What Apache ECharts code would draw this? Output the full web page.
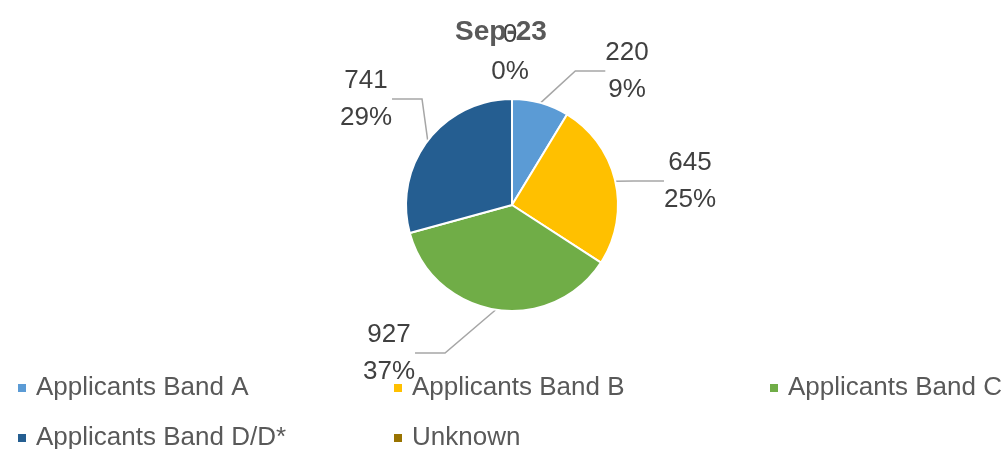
<!DOCTYPE html>
<html>
<head>
<meta charset="utf-8">
<script src="https://cdn.jsdelivr.net/npm/echarts@6/dist/echarts.min.js"></script>
<style>
  html, body { margin: 0; padding: 0; background: #fff; }
  #chart { width: 1002px; height: 449px; }
</style>
</head>
<body>
<div id="chart"></div>
<script>
// data
const title = "Sep-23";
const categories = ["Applicants Band A", "Applicants Band B", "Applicants Band C", "Applicants Band D/D*", "Unknown"];
const values = [220, 645, 927, 741, 0];
const colors = ["#5B9BD5", "#FFC000", "#70AD47", "#255E91", "#997300"];

// where each data label sits (label centre, px)
const labelPos = [
  [627, 71],
  [690, 181],
  [389, 353],
  [366, 99],
  [510, 53],
];

const font = "'Liberation Sans', Arial, sans-serif";

const chart = echarts.init(document.getElementById("chart"));

const option = {
  backgroundColor: "#fff",
  animation: false,
  color: colors,
  title: {
    text: title,
    left: "center",
    top: 13,
    textStyle: { fontFamily: font, fontSize: 28, fontWeight: "bold", color: "#595959" },
  },
  legend: {
    data: categories,
    left: 11,
    top: 358,
    width: 1140,
    orient: "horizontal",
    itemGap: 0,
    itemWidth: 10,
    itemHeight: 10,
    icon: "rect",
    textStyle: {
      fontFamily: font,
      fontSize: 26,
      color: "#595959",
      width: 356,
      lineHeight: 50,
      padding: [0, 0, 0, 4],
    },
  },
  series: [
    {
      type: "pie",
      center: [512, 205],
      radius: 106,
      startAngle: 90,
      percentPrecision: 0,
      itemStyle: { borderColor: "#fff", borderWidth: 2 },
      label: {
        show: true,
        formatter: "{c}\n{d}%",
        fontFamily: font,
        fontSize: 26,
        lineHeight: 37,
        color: "#404040",
      },
      labelLine: {
        show: true,
        lineStyle: { color: "#a6a6a6", width: 1.5 },
      },
      labelLayout: (p) => ({
        x: labelPos[p.dataIndex][0],
        y: labelPos[p.dataIndex][1],
        align: "center",
        verticalAlign: "middle",
      }),
      emphasis: { disabled: true },
      data: categories.map((name, i) => ({
        name: name,
        value: values[i],
        labelLine: { show: values[i] > 0 },
      })),
    },
  ],
};

chart.setOption(option);
</script>
</body>
</html>
